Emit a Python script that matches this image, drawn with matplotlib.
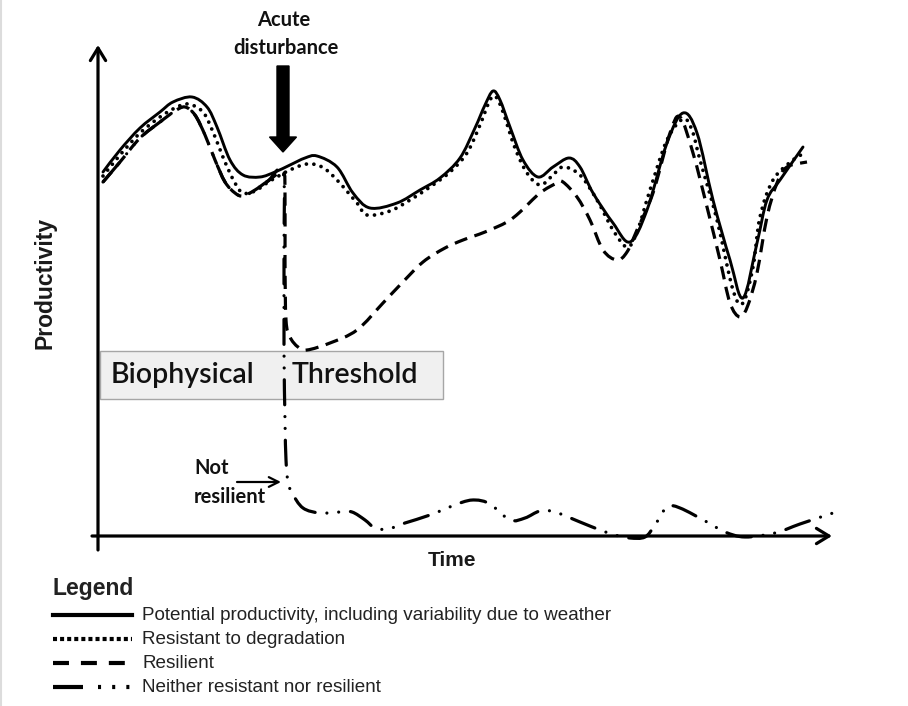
import matplotlib
matplotlib.use("Agg")
import matplotlib.pyplot as plt
import numpy as np
from matplotlib.patches import Rectangle, FancyArrow, PathPatch
from matplotlib.path import Path
from matplotlib.lines import Line2D
from matplotlib.transforms import Affine2D

plt.rcParams['lines.scale_dashes'] = False

# ---------------- data (arbitrary time / productivity units) ----------------
potential_time = [5, 22, 42, 62, 75, 94, 109, 119, 132, 145, 162, 177, 192, 207, 219, 239, 255, 272, 299,
                  322, 342, 362, 377, 387, 395, 402, 412, 425, 440, 455, 471, 482, 495, 515, 532, 549, 569,
                  585, 599, 615, 632, 645, 659, 669, 682, 705]
potential_prod = [364, 386, 408, 424, 434, 439, 429, 409, 376, 361, 359, 364, 371, 378, 380, 369, 343, 328, 333,
                  346, 358, 378, 408, 431, 445, 436, 409, 376, 359, 369, 378, 369, 343, 313, 294, 326, 393,
                  423, 403, 336, 276, 238, 293, 336, 356, 389]

resistant_time = [5, 22, 42, 62, 77, 90, 105, 115, 127, 137, 145, 157, 172, 192, 209, 224, 239, 259, 269, 292,
                  312, 332, 352, 369, 382, 392, 398, 405, 417, 429, 442, 454, 465, 482, 499, 515, 529, 539,
                  552, 569, 585, 594, 602, 619, 635, 645, 655, 662, 675, 695, 707]
resistant_prod = [360, 381, 403, 419, 428, 432, 424, 404, 374, 353, 343, 345, 355, 366, 372, 369, 356, 333, 321, 325,
                  336, 349, 364, 383, 411, 436, 439, 424, 388, 363, 351, 360, 369, 361, 336, 306, 289, 304,
                  346, 396, 417, 406, 376, 316, 246, 233, 269, 319, 356, 376, 383]

resilient_time = [5, 22, 42, 62, 77, 87, 97, 107, 117, 127, 137, 145, 157, 170, 185,
                  187, 187, 188, 192, 200, 209, 232, 259, 285, 302, 325, 347, 365, 387, 409, 422, 442, 459,
                  465, 479, 492, 505, 519, 529, 539, 555, 572, 582, 595, 609, 622, 632, 642, 650, 659, 669,
                  679, 689, 709]
resilient_prod = [354, 374, 398, 414, 425, 429, 421, 401, 376, 354, 343, 340, 346, 355, 364,
                  341, 276, 216, 199, 189, 186, 193, 206, 233, 251, 274, 288, 296, 304, 314, 324, 343, 353,
                  354, 339, 316, 286, 276, 284, 306, 343, 403, 419, 383, 329, 276, 233, 219, 231, 263, 319,
                  353, 369, 374]

neither_time = [5, 22, 42, 62, 77, 87, 97, 107, 117, 127, 137, 145, 157, 170, 185,
                186, 186, 187, 188, 190, 194, 205, 222, 242, 254, 267, 277, 290, 307, 332, 362, 377, 392,
                412, 427, 442, 457, 482, 502, 517, 532, 547, 557, 569, 582, 609, 627, 647, 677, 702, 735]
neither_prod = [354, 374, 398, 414, 425, 429, 421, 401, 376, 354, 343, 340, 346, 355, 364,
                286, 186, 116, 76, 54, 43, 28, 23, 24, 24, 16, 8, 7, 13, 21, 33, 36, 32,
                16, 18, 25, 24, 14, 6, 1, -2, -1, 11, 29, 28, 14, 4, -1, 3, 12, 23]

threshold_low, threshold_high = 137, 185
threshold_start, threshold_end = 2, 345
disturbance_time = 185

legend_labels = ["Potential productivity, including variability due to weather",
                 "Resistant to degradation",
                 "Resilient",
                 "Neither resistant nor resilient"]

# ---------------- figure ----------------
W, H = 908, 706
fig = plt.figure(figsize=(W / 100, H / 100), dpi=100)
ax = fig.add_axes([0, 0, 1, 1])
ax.set_xlim(-98, W - 98)
ax.set_ylim(-(H - 536), 536)
ax.axis('off')

pix = Affine2D().scale(1 / W, -1 / H).translate(0, 1) + fig.transFigure

calibri = ['Lato', 'DejaVu Sans']
arial = ['Liberation Sans', 'DejaVu Sans']


def smooth_curve(xs, ys, **kw):
    """Draw a smooth curve through the given points (Catmull-Rom as Bezier path)."""
    P = np.column_stack([xs, ys]).astype(float)
    n = len(P)
    verts = [P[0]]
    codes = [Path.MOVETO]
    for i in range(n - 1):
        p0 = P[i - 1] if i > 0 else P[i]
        p1, p2 = P[i], P[i + 1]
        p3 = P[i + 2] if i + 2 < n else P[i + 1]
        c1 = p1 + (p2 - p0) / 6.0
        c2 = p2 - (p3 - p1) / 6.0
        verts += [c1, c2, p2]
        codes += [Path.CURVE4] * 3
    patch = PathPatch(Path(verts, codes), fill=False, transform=ax.transData, **kw)
    ax.add_patch(patch)
    return patch


# threshold box
ax.add_patch(Rectangle((threshold_start, threshold_low), threshold_end - threshold_start,
                       threshold_high - threshold_low, facecolor='#f0f0f0', edgecolor='#a6a6a6',
                       lw=1.0, zorder=1))
ax.text(threshold_start + 11, (threshold_low + threshold_high) / 2, "Biophysical", family=calibri,
        fontsize=20.5, weight='semibold', va='center', ha='left', color='#111111', zorder=2)
ax.text(disturbance_time + 9, (threshold_low + threshold_high) / 2, "Threshold", family=calibri,
        fontsize=20.5, weight='semibold', va='center', ha='left', color='#111111', zorder=2)

# curves
smooth_curve(neither_time, neither_prod, edgecolor='black', lw=2.3,
             linestyle=(0, (18, 8.5, 0.01, 8.5, 0.01, 8.5)), capstyle='round', zorder=3)
smooth_curve(resilient_time, resilient_prod, edgecolor='black', lw=2.3,
             linestyle=(0, (9.5, 5.5)), capstyle='butt', zorder=4)
smooth_curve(resistant_time, resistant_prod, edgecolor='black', lw=2.7,
             linestyle=(0, (0.01, 5.4)), capstyle='round', zorder=5)
smooth_curve(potential_time, potential_prod, edgecolor='black', lw=2.1, linestyle='-',
             capstyle='round', joinstyle='round', zorder=6)

# axes arrows
ax.annotate("", xy=(0, 491), xytext=(0, -14),
            arrowprops=dict(arrowstyle='->,head_length=0.9,head_width=0.55', lw=2.3, color='black',
                            shrinkA=0, shrinkB=0))
ax.annotate("", xy=(734, 0), xytext=(-6, 0),
            arrowprops=dict(arrowstyle='->,head_length=0.9,head_width=0.55', lw=2.3, color='black',
                            shrinkA=0, shrinkB=0))

# acute disturbance arrow
ax.add_patch(FancyArrow(disturbance_time, 470, 0, -86, width=12, head_width=27, head_length=15,
                        length_includes_head=True, color='black', zorder=7))
fig.text(284, 20, "Acute", transform=pix, family=calibri, fontsize=14.5, weight='bold',
         ha='center', va='center', color='#111111')
fig.text(286, 48, "disturbance", transform=pix, family=calibri, fontsize=14.5, weight='bold',
         ha='center', va='center', color='#111111')

# not resilient
fig.text(194, 468, "Not", transform=pix, family=calibri, fontsize=14.5, weight='bold',
         ha='left', va='center', color='#111111')
fig.text(194, 497, "resilient", transform=pix, family=calibri, fontsize=14.5, weight='bold',
         ha='left', va='center', color='#111111')
ax.annotate("", xy=(disturbance_time - 2, 54), xytext=(139, 54),
            arrowprops=dict(arrowstyle='->,head_length=0.7,head_width=0.35', lw=1.6, color='black',
                            shrinkA=0, shrinkB=0))

# axis labels
fig.text(45, 283, "Productivity", transform=pix, family=arial, fontsize=16.5, weight='bold',
         rotation=90, ha='center', va='center', color='#1a1a1a')
fig.text(452, 561, "Time", transform=pix, family=arial, fontsize=15, weight='bold',
         ha='center', va='center', color='#1a1a1a')

# legend
fig.text(52, 589, "Legend", transform=pix, family=arial, fontsize=16.5, weight='bold',
         ha='left', va='center', color='#222222')
rows = [615, 639, 663, 687]
styles = [dict(ls='-'),
          dict(dashes=(2.9, 2.2)),
          dict(dashes=(11.5, 8.6)),
          dict(dashes=(21.6, 10.8, 2.2, 8, 2.2, 8, 2.2, 30))]
for y, lab, st in zip(rows, legend_labels, styles):
    fig.add_artist(Line2D([53, 132], [y, y], transform=pix, color='black', lw=3.0, **st))
    fig.text(142, y, lab, transform=pix, family=arial, fontsize=13.6, ha='left', va='center',
             color='#222222')

# faint frame at left edge
fig.add_artist(Line2D([1, 1], [0, H], transform=pix, color='#dcdcdc', lw=1.5))

fig.savefig("out.png", dpi=100)
